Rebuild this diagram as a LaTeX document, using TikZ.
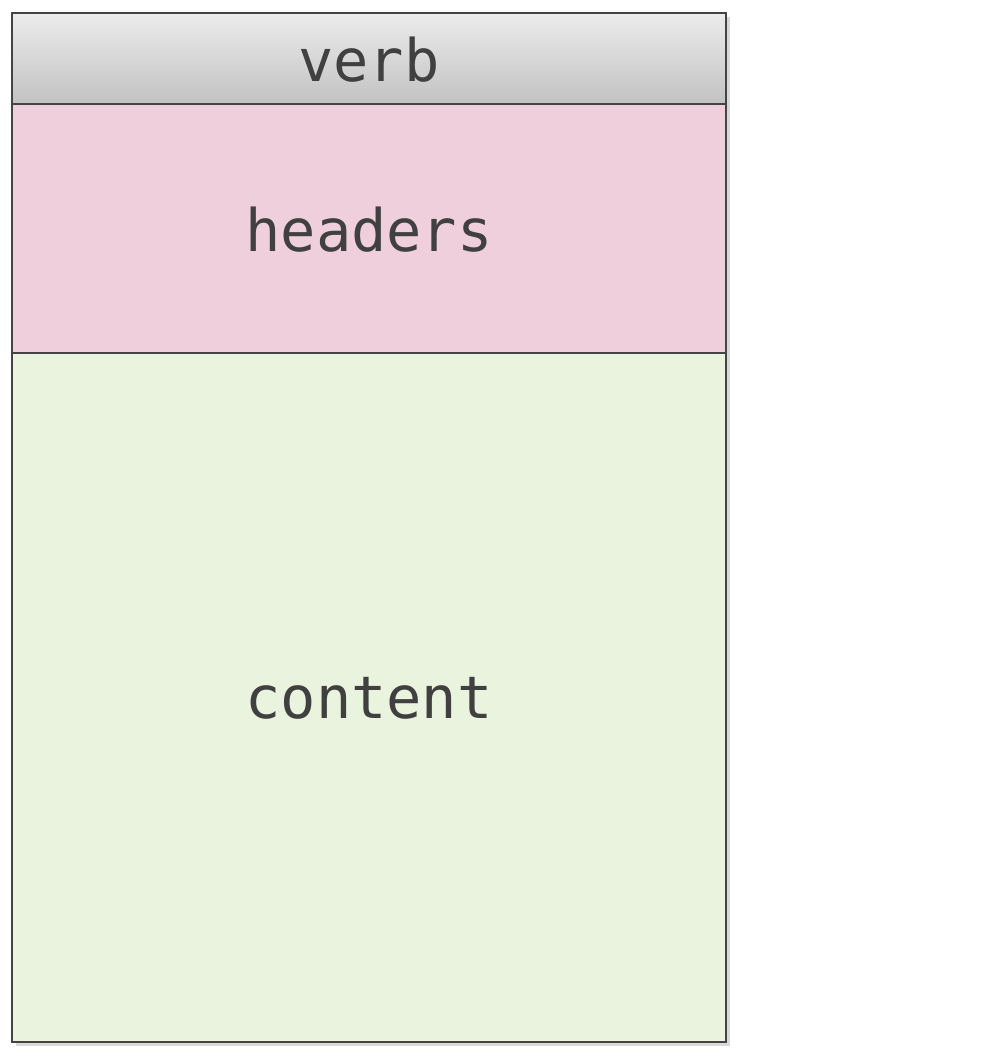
\documentclass[tikz,border=0pt]{standalone}
\usepackage{fontspec}
\setmonofont{DejaVu Sans Mono}
\usetikzlibrary{shadows}
\definecolor{linec}{HTML}{444444}
\definecolor{textc}{HTML}{404040}
\definecolor{toptop}{HTML}{ECECEC}
\definecolor{topbot}{HTML}{C2C2C2}
\definecolor{pinkc}{HTML}{EFCFDB}
\definecolor{greenc}{HTML}{E9F3DD}
\begin{document}
\begin{tikzpicture}[x=0.75pt,y=-0.75pt,
  part/.style={draw=linec,line width=1.6pt},
  lbl/.style={text=textc,font=\ttfamily\fontsize{44}{52}\selectfont}]
\useasboundingbox (0,0) rectangle (1000,1058);
\fill[black!25,opacity=0.6] (16,17) rectangle (730,1046);
\path[part,top color=toptop,bottom color=topbot] (12,13) rectangle (726,104);
\path[part,fill=pinkc] (12,104) rectangle (726,353);
\path[part,fill=greenc] (12,353) rectangle (726,1042);
\node[lbl] (verb) at (369,60) {verb};
\node[lbl] (headers) at (369,230) {headers};
\node[lbl] (content) at (369,698) {content};
\end{tikzpicture}
\end{document}
